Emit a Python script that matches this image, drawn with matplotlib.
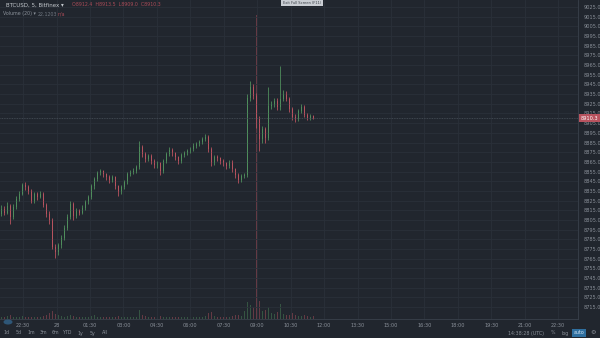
# BTCUSD 5m candles, TradingView-style dark chart
import matplotlib.pyplot as plt
from matplotlib.patches import Circle
import numpy as np

W, H = 600, 338

opens = [8811.5, 8816.7, 8812.6, 8819.8, 8808.4, 8818.8, 8827.1, 8832.3, 8840.6, 8838.6,
         8835.4, 8825.0, 8831.3, 8829.2, 8832.3, 8820.9, 8811.5, 8805.3, 8777.2, 8772.0,
         8779.3, 8786.6, 8797.0, 8808.4, 8821.9, 8809.4, 8814.6, 8812.6, 8817.8, 8824.0,
         8828.2, 8839.6, 8846.9, 8853.1, 8855.2, 8852.1, 8849.0, 8845.8, 8849.0, 8839.6,
         8833.4, 8838.6, 8843.8, 8852.1, 8854.2, 8855.2, 8859.4, 8880.2, 8872.9, 8867.7,
         8870.8, 8865.6, 8861.4, 8863.5, 8855.2, 8865.6, 8872.9, 8877.0, 8873.9, 8869.8,
         8865.6, 8871.8, 8873.9, 8876.0, 8878.1, 8881.2, 8883.3, 8885.4, 8888.5, 8890.6,
         8878.1, 8863.5, 8869.8, 8868.7, 8865.6, 8863.5, 8860.4, 8864.6, 8857.3, 8851.0,
         8845.8, 8850.0, 8851.0, 8931.1, 8942.6, 8933.2, 8909.3, 8888.5, 8898.9, 8889.5,
         8922.8, 8924.9, 8928.0, 8921.8, 8930.1, 8935.3, 8930.1, 8919.7, 8911.4, 8909.3,
         8917.6, 8921.8, 8913.4, 8910.3, 8912.4]
closes = [8816.7, 8812.6, 8819.8, 8808.4, 8818.8, 8827.1, 8832.3, 8840.6, 8838.6, 8835.4,
          8825.0, 8831.3, 8829.2, 8832.3, 8820.9, 8811.5, 8805.3, 8777.2, 8772.0, 8779.3,
          8786.6, 8797.0, 8808.4, 8821.9, 8809.4, 8814.6, 8812.6, 8817.8, 8824.0, 8828.2,
          8839.6, 8846.9, 8853.1, 8855.2, 8852.1, 8849.0, 8845.8, 8849.0, 8839.6, 8833.4,
          8838.6, 8843.8, 8852.1, 8854.2, 8855.2, 8859.4, 8880.2, 8872.9, 8867.7, 8870.8,
          8865.6, 8861.4, 8863.5, 8855.2, 8865.6, 8872.9, 8877.0, 8873.9, 8869.8, 8865.6,
          8871.8, 8873.9, 8876.0, 8878.1, 8881.2, 8883.3, 8885.4, 8888.5, 8890.6, 8878.1,
          8863.5, 8869.8, 8868.7, 8865.6, 8863.5, 8860.4, 8864.6, 8857.3, 8851.0, 8845.8,
          8850.0, 8851.0, 8931.1, 8942.6, 8933.2, 8909.3, 8888.5, 8898.9, 8889.5, 8922.8,
          8924.9, 8928.0, 8921.8, 8930.1, 8935.3, 8930.1, 8919.7, 8911.4, 8909.3, 8917.6,
          8921.8, 8913.4, 8910.3, 8912.4, 8910.3]
highs = [8820.0, 8819.0, 8824.0, 8822.0, 8821.5, 8830.0, 8834.5, 8843.0, 8844.5, 8841.0,
         8837.0, 8834.0, 8833.5, 8835.0, 8834.0, 8823.0, 8814.0, 8807.0, 8780.0, 8781.5,
         8789.0, 8799.5, 8811.0, 8824.5, 8823.5, 8817.0, 8816.5, 8820.5, 8826.0, 8831.0,
         8842.0, 8849.5, 8855.5, 8858.0, 8857.0, 8854.0, 8851.0, 8851.5, 8850.5, 8841.0,
         8841.0, 8846.0, 8854.5, 8857.0, 8858.5, 8862.0, 8886.4, 8882.5, 8875.0, 8873.5,
         8873.0, 8867.5, 8866.0, 8865.0, 8868.0, 8875.5, 8880.0, 8879.0, 8875.5, 8871.5,
         8874.0, 8876.5, 8878.5, 8880.5, 8884.0, 8886.0, 8888.0, 8891.0, 8893.7, 8892.5,
         8880.0, 8872.0, 8872.5, 8870.5, 8867.5, 8865.0, 8867.0, 8866.5, 8859.0, 8853.0,
         8852.5, 8853.5, 8935.0, 8948.8, 8945.0, 8936.0, 8912.0, 8902.0, 8901.0, 8942.6,
         8928.0, 8931.0, 8930.5, 8964.4, 8939.0, 8938.0, 8932.0, 8922.0, 8914.0, 8920.0,
         8924.5, 8923.5, 8915.5, 8914.5, 8913.5]
lows = [8809.0, 8810.5, 8811.0, 8801.1, 8806.0, 8816.5, 8825.0, 8830.5, 8836.0, 8832.0,
        8822.5, 8823.0, 8826.0, 8827.5, 8818.0, 8808.5, 8801.0, 8774.5, 8765.8, 8769.0,
        8776.5, 8784.0, 8795.0, 8806.0, 8805.0, 8807.5, 8810.0, 8811.0, 8815.5, 8822.0,
        8826.5, 8837.0, 8845.0, 8851.0, 8849.5, 8846.0, 8843.0, 8844.0, 8836.5, 8830.0,
        8831.5, 8836.5, 8842.0, 8850.0, 8852.0, 8853.5, 8858.0, 8870.0, 8864.5, 8865.5,
        8862.5, 8858.5, 8859.0, 8851.0, 8853.5, 8864.0, 8871.0, 8871.5, 8867.0, 8863.0,
        8864.0, 8870.0, 8872.0, 8874.5, 8876.5, 8879.5, 8881.5, 8883.5, 8886.5, 8875.5,
        8860.5, 8861.5, 8866.0, 8863.0, 8861.0, 8857.5, 8858.5, 8855.0, 8848.5, 8842.7,
        8844.0, 8848.0, 8849.5, 8928.0, 8930.0, 8900.0, 8876.0, 8885.0, 8884.0, 8888.0,
        8919.5, 8922.0, 8918.5, 8919.0, 8928.0, 8927.5, 8916.5, 8908.0, 8906.5, 8907.0,
        8915.0, 8911.0, 8908.0, 8908.5, 8909.0]
volumes = [12, 10, 14, 18, 12, 10, 9, 14, 8, 10,
           12, 9, 8, 10, 14, 20, 30, 40, 25, 18,
           14, 12, 16, 20, 15, 10, 8, 9, 10, 12,
           14, 18, 12, 10, 9, 8, 10, 9, 12, 14,
           10, 9, 11, 8, 9, 12, 45, 20, 14, 10,
           9, 10, 8, 14, 12, 10, 9, 8, 10, 9,
           8, 9, 10, 8, 9, 10, 9, 12, 14, 30,
           35, 16, 12, 10, 9, 12, 10, 14, 18, 20,
           16, 40, 85, 70, 60, 1520, 90, 40, 45, 60,
           30, 25, 35, 75, 25, 20, 22, 30, 18, 15,
           16, 18, 14, 12, 15]

price_ticks = np.arange(8715, 9026, 10)
time_labels = ['22:30', '28', '01:30', '03:00', '04:30', '06:00', '07:30', '09:00', '10:30',
               '12:00', '13:30', '15:00', '16:30', '18:00', '19:30', '21:00', '22:30']
range_buttons = ['1d', '5d', '1m', '3m', '6m', 'YTD', '1y', '5y', 'All']

bg = '#21262e'
grid_c = '#2a3039'
up_c = '#4f8d5c'
dn_c = '#b8535f'
txt_c = '#8a9099'

def fx(x):
    return x / W

def fy(y):
    return 1 - y / H

fig = plt.figure(figsize=(6, 3.38), dpi=100, facecolor=bg)
ax = fig.add_axes([0, fy(319), fx(578), 319 / H])
ax2 = ax.twinx()
ax.set_zorder(ax2.get_zorder() + 1)
ax.patch.set_visible(False)
ax2.set_facecolor(bg)

idx = np.arange(len(closes))
o = np.array(opens)
c = np.array(closes)
up = c >= o
cols = np.where(up, up_c, dn_c)

# volume
ax2.bar(idx, volumes, width=0.6, color=cols, alpha=0.45, linewidth=0)
ax2.set_ylim(0, max(volumes) * 319 / 304)
ax2.set_yticks([])
ax2.set_xlim(-0.5, 192.2)

# candles
ax.vlines(idx, lows, highs, colors=cols, linewidth=0.6)
ax.bar(idx, np.maximum(np.abs(c - o), 0.4), bottom=np.minimum(o, c), width=0.62,
       color=cols, linewidth=0)

ax.set_xlim(-0.5, 192.2)
ax.set_ylim(8702.7, 9032.2)
ax.yaxis.tick_right()
ax.set_yticks(price_ticks)
ax.set_yticklabels([f'{p:.1f}' for p in price_ticks])
tpos = 7.2 + np.arange(len(time_labels)) * 11.15
ax.set_xticks(tpos)
ax.set_xticklabels(time_labels)
ax.tick_params(axis='both', length=0, labelsize=3.6, labelcolor=txt_c)
ax.tick_params(axis='y', pad=4)
ax.tick_params(axis='x', pad=3)
ax.grid(True, color=grid_c, linewidth=0.6)
for s in ['top', 'left']:
    ax.spines[s].set_visible(False)
    ax2.spines[s].set_visible(False)
for s in ['right', 'bottom']:
    ax.spines[s].set_color('#3a414b')
    ax.spines[s].set_linewidth(0.6)
    ax2.spines[s].set_visible(False)

# last price line and label
last = closes[-1]
ax.axhline(last, color='#4a515b', linewidth=0.6, linestyle=(0, (1, 1)))
ax.text(1.005, last, f'{last:.1f}', transform=ax.get_yaxis_transform(), fontsize=3.6,
        color='white', va='center', ha='left', clip_on=False,
        bbox=dict(boxstyle='square,pad=0.35', fc=dn_c, ec='none'))

# header
fig.text(fx(6), fy(5), 'BTCUSD, 5, Bitfinex \u25be', fontsize=4.0, color='#c3c8cd', va='center')
fig.text(fx(72), fy(5), f'O{opens[-1]:.1f}  H{highs[-1]:.1f}  L{lows[-1]:.1f}  C{last:.1f}',
         fontsize=3.4, color='#a84b57', va='center')
fig.text(fx(3), fy(14), 'Volume (20) \u25be', fontsize=3.4, color=txt_c, va='center')
fig.text(fx(38), fy(14), '22.1203', fontsize=3.4, color='#6f7680', va='center')
fig.text(fx(58), fy(14), 'n/a', fontsize=3.4, color='#a84b57', va='center')

# tooltip
fig.text(fx(302), fy(3), 'Exit Full Screen (F11)', fontsize=2.6, color='#3a3f46',
         ha='center', va='center',
         bbox=dict(boxstyle='square,pad=0.4', fc='#c9cdd3', ec='none'))

# bottom bar
fig.patches.append(Circle((fx(8), fy(322)), 4.5 / W, transform=fig.transFigure,
                          fc='#2e5677', ec='none'))
for k, b in enumerate(range_buttons):
    fig.text(fx(6 + 12.4 * k), fy(333), b, fontsize=3.4, color=txt_c, ha='center', va='center')
fig.text(fx(526), fy(333), '14:38:28 (UTC)', fontsize=3.4, color=txt_c, ha='center', va='center')
fig.text(fx(553), fy(333), '%', fontsize=3.4, color=txt_c, ha='center', va='center')
fig.text(fx(565), fy(333), 'log', fontsize=3.4, color=txt_c, ha='center', va='center')
fig.text(fx(579), fy(333), 'auto', fontsize=3.4, color='#d6e6f5', ha='center', va='center',
         bbox=dict(boxstyle='square,pad=0.3', fc='#2f6f9f', ec='none'))
fig.text(fx(593), fy(333), '\u2699', fontsize=4.5, color=txt_c, ha='center', va='center')

fig.savefig('out.png', dpi=100, facecolor=bg)
